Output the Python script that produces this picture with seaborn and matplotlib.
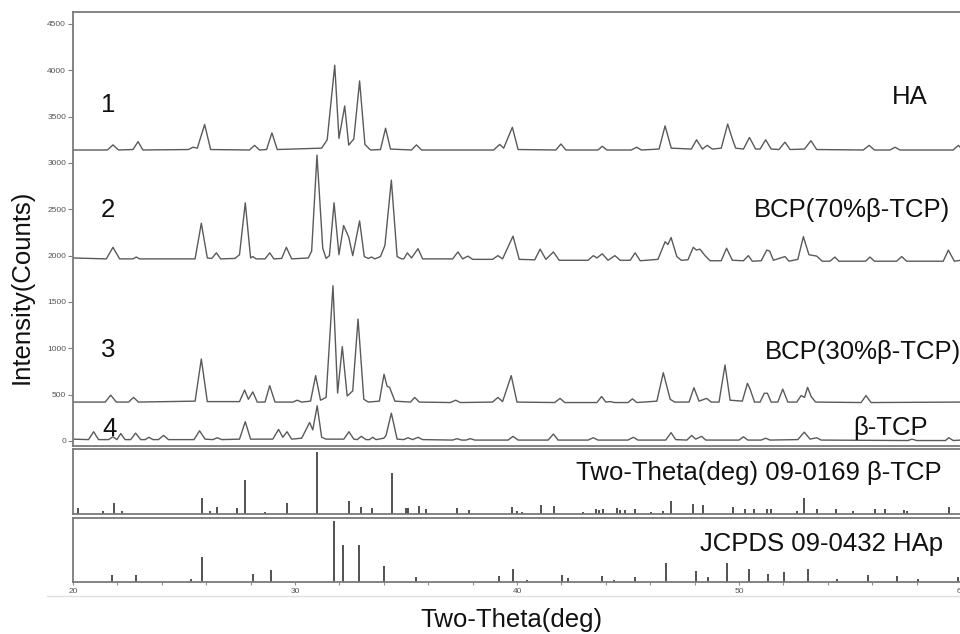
import matplotlib
matplotlib.use("Agg")
import matplotlib.pyplot as plt
from matplotlib.lines import Line2D
import seaborn as sns
import pandas as pd

# ---------------- data ----------------
ha_theta = [20.0, 21.55, 21.8, 22.05, 22.7, 22.93, 23.15, 25.2, 25.4, 25.6, 25.93, 26.2,
            27.95, 28.18, 28.4, 28.72, 28.96, 29.2, 31.2, 31.45, 31.79, 31.98, 32.24, 32.42,
            32.65, 32.91, 33.15, 33.4, 33.85, 34.08, 34.3, 35.25, 35.47, 35.7, 38.95, 39.22,
            39.4, 39.79, 40.05, 41.75, 41.98, 42.2, 43.65, 43.84, 44.05, 45.15, 45.39, 45.6,
            46.4, 46.67, 46.95, 47.85, 48.09, 48.35, 48.57, 48.8, 49.2, 49.49, 49.7, 49.85,
            50.2, 50.47, 50.75, 50.95, 51.2, 51.45, 51.8, 52.07, 52.3, 52.95, 53.24, 53.5,
            55.6, 55.86, 56.1, 56.8, 57.03, 57.25, 59.65, 59.88, 60.0]
ha_counts = [3140, 3140, 3195, 3140, 3145, 3230, 3140, 3145, 3170, 3160, 3415, 3145,
             3140, 3190, 3140, 3145, 3325, 3145, 3160, 3250, 4055, 3265, 3615, 3193,
             3260, 3885, 3200, 3140, 3145, 3375, 3150, 3140, 3195, 3140, 3140, 3200,
             3160, 3385, 3145, 3140, 3205, 3140, 3140, 3180, 3140, 3140, 3170, 3140,
             3150, 3400, 3160, 3150, 3250, 3150, 3190, 3150, 3160, 3420, 3260, 3160,
             3150, 3275, 3150, 3150, 3250, 3150, 3145, 3225, 3145, 3150, 3240, 3145,
             3140, 3190, 3140, 3140, 3170, 3140, 3140, 3190, 3160]

bcp70_theta = [20.0, 21.5, 21.8, 22.1, 22.7, 22.85, 23.0, 25.5, 25.78, 26.05, 26.25, 26.46, 26.65,
               27.3, 27.5, 27.76, 28.0, 28.1, 28.25, 28.65, 28.86, 29.05, 29.4, 29.61, 29.85,
               30.6, 30.75, 30.99, 31.25, 31.4, 31.55, 31.76, 31.98, 32.19, 32.42, 32.6, 32.91,
               33.12, 33.3, 33.45, 33.6, 33.85, 34.05, 34.34, 34.6, 34.8, 34.9, 35.06, 35.25,
               35.54, 35.75, 37.1, 37.34, 37.55, 37.79, 38.0, 38.9, 39.14, 39.35, 39.82, 40.1,
               40.8, 41.04, 41.3, 41.64, 41.9, 43.2, 43.44, 43.6, 43.84, 44.1, 44.41, 44.65,
               45.1, 45.32, 45.55, 46.35, 46.67, 46.8, 46.94, 47.2, 47.4, 47.7, 47.94, 48.08,
               48.24, 48.47, 48.7, 49.2, 49.44, 49.7, 50.2, 50.42, 50.6, 51.0, 51.25, 51.38,
               51.55, 52.07, 52.25, 52.65, 52.9, 53.15, 53.5, 53.75, 54.1, 54.32, 54.5, 55.7,
               55.9, 56.1, 57.1, 57.33, 57.55, 59.2, 59.43, 59.7, 60.0]
bcp70_counts = [1975, 1965, 2090, 1965, 1965, 1985, 1965, 1965, 2350, 1975, 1970, 2030, 1965,
                1970, 2010, 2570, 1975, 1990, 1965, 1965, 2030, 1965, 1970, 2090, 1965,
                1975, 2050, 3085, 2080, 1970, 2000, 2570, 2010, 2325, 2200, 2000, 2375,
                1990, 1970, 1985, 1965, 1990, 2110, 2815, 1990, 1965, 1965, 2030, 1975,
                2075, 1965, 1965, 2040, 1965, 1995, 1960, 1960, 2000, 1965, 2210, 1960,
                1955, 2070, 1960, 2040, 1950, 1950, 2000, 1975, 2020, 1950, 2000, 1950,
                1950, 2030, 1945, 1960, 2150, 2120, 2195, 1990, 1950, 1955, 2090, 2060,
                2070, 2000, 1945, 1945, 2080, 1950, 1945, 2000, 1940, 1945, 2060, 2050,
                1950, 1990, 1940, 1960, 2205, 2010, 1995, 1940, 1940, 1985, 1940, 1940,
                1985, 1940, 1940, 1990, 1940, 1940, 2060, 1940, 1950]

bcp30_theta = [20.0, 21.45, 21.7, 21.95, 22.5, 22.73, 22.95, 25.5, 25.78, 26.05, 27.5, 27.73,
               27.9, 28.1, 28.3, 28.65, 28.86, 29.1, 29.9, 30.1, 30.3, 30.7, 30.93, 31.15,
               31.4, 31.71, 31.92, 32.13, 32.35, 32.6, 32.84, 33.1, 33.3, 33.8, 34.01, 34.15,
               34.26, 34.5, 35.2, 35.39, 35.6, 37.0, 37.24, 37.45, 38.9, 39.14, 39.35, 39.74,
               40.0, 41.7, 41.94, 42.15, 43.6, 43.81, 44.0, 44.2, 44.4, 45.0, 45.2, 45.4,
               46.3, 46.59, 46.9, 47.1, 47.75, 47.97, 48.2, 48.54, 48.75, 49.1, 49.37, 49.6,
               50.15, 50.38, 50.5, 50.7, 50.95, 51.14, 51.28, 51.45, 51.75, 51.97, 52.2,
               52.6, 52.8, 52.95, 53.09, 53.25, 53.45, 55.5, 55.72, 55.95, 60.0]
bcp30_counts = [420, 420, 495, 420, 420, 470, 420, 430, 885, 425, 425, 550,
                450, 530, 420, 420, 597, 420, 420, 440, 420, 430, 705, 440,
                470, 1675, 517, 1018, 485, 540, 1316, 450, 420, 430, 720, 590,
                580, 430, 420, 470, 420, 415, 440, 415, 420, 470, 425, 705,
                420, 415, 460, 415, 415, 480, 420, 425, 415, 415, 455, 415,
                430, 737, 450, 420, 420, 575, 430, 460, 420, 420, 820, 440,
                430, 622, 560, 420, 420, 515, 515, 420, 420, 560, 420,
                420, 490, 470, 579, 480, 420, 415, 490, 415, 420]

tcp_theta = [20.0, 20.7, 20.93, 21.15, 21.6, 21.8, 21.98, 22.15, 22.35, 22.6, 22.82, 23.05,
             23.25, 23.42, 23.6, 23.85, 24.08, 24.3, 25.45, 25.7, 25.95, 26.3, 26.5, 26.7,
             27.5, 27.76, 28.0, 29.0, 29.26, 29.45, 29.64, 29.85, 30.3, 30.66, 30.8, 31.0,
             31.2, 31.4, 32.2, 32.43, 32.65, 32.8, 32.99, 33.2, 33.35, 33.5, 33.65, 34.0,
             34.1, 34.34, 34.6, 34.9, 35.09, 35.3, 35.54, 35.75, 37.1, 37.3, 37.5, 37.7,
             37.9, 38.1, 39.6, 39.82, 40.05, 41.4, 41.64, 41.85, 43.2, 43.44, 43.65, 45.0,
             45.24, 45.45, 46.7, 46.94, 47.15, 47.65, 47.87, 48.05, 48.32, 48.5, 50.0, 50.2,
             50.4, 51.0, 51.2, 51.4, 52.65, 52.94, 53.2, 53.5, 53.7, 57.6, 57.8, 58.0,
             59.3, 59.45, 59.65, 60.0]
tcp_counts = [20, 15, 100, 15, 15, 45, 15, 80, 15, 15, 85, 15,
              15, 40, 15, 15, 60, 15, 15, 110, 20, 15, 35, 15,
              20, 208, 20, 20, 125, 40, 100, 20, 30, 200, 120, 380,
              40, 20, 20, 100, 20, 15, 50, 15, 15, 40, 15, 30,
              60, 300, 20, 15, 35, 15, 40, 15, 10, 25, 10, 10,
              25, 10, 10, 50, 10, 10, 75, 10, 10, 35, 10, 10,
              40, 10, 10, 90, 15, 10, 60, 20, 50, 10, 10, 45,
              10, 10, 30, 10, 15, 95, 20, 35, 10, 5, 20, 5,
              5, 35, 5, 10]

# reference stick patterns (relative height, % of panel)
ref_tcp_theta = [20.21, 21.37, 21.83, 22.2, 25.8, 26.17, 26.47, 27.4, 27.75, 28.66, 29.64, 31.0,
                 32.43, 32.99, 33.47, 34.35, 35.0, 35.1, 35.57, 35.88, 37.31, 37.85, 39.76, 40.01,
                 40.21, 41.06, 41.66, 42.96, 43.54, 43.71, 43.89, 44.49, 44.64, 44.86, 45.31,
                 46.02, 46.59, 46.95, 47.94, 48.39, 49.74, 50.27, 50.69, 51.24, 51.44, 52.6,
                 52.93, 53.5, 54.37, 55.12, 56.12, 56.57, 57.43, 57.55, 59.47]
ref_tcp_int = [7.8, 4, 15.6, 4, 24.5, 4, 10.4, 7.8, 52, 3, 15.6, 94.8,
               19.8, 10.4, 7.8, 62.5, 7.8, 7.8, 12, 6.8, 7.9, 5.8, 9.5, 4,
               3, 13.7, 11, 3, 6.8, 5.8, 6.8, 8.4, 5.8, 5.8, 6.8,
               2.6, 4.2, 19, 14.7, 13.7, 10.5, 6.8, 6.8, 6.8, 6.8, 4.2,
               23.7, 6.8, 6.8, 4.2, 6.8, 6.8, 5.8, 4.2, 10.5]

ref_hap_theta = [21.77, 22.85, 25.3, 25.83, 28.12, 28.92, 31.74, 32.17, 32.89, 34.03, 35.46,
                 39.2, 39.8, 40.46, 42.01, 42.28, 43.81, 44.37, 45.31, 46.7, 48.06, 48.59,
                 49.47, 50.46, 51.29, 52.04, 53.12, 54.4, 55.82, 57.1, 58.05, 59.88]
ref_hap_int = [11.5, 11.5, 4.2, 39, 13, 19.3, 94.8, 57.3, 57.3, 25, 7.8,
               8.9, 19.8, 2.6, 11.5, 6.3, 8.9, 2.6, 7.8, 29.7, 16.7, 7.8,
               29.7, 19.8, 12, 15.6, 19.8, 4.2, 11.5, 8.9, 5.2, 7.8]

y_ticks = [0, 500, 1000, 1500, 2000, 2500, 3000, 3500, 4000, 4500]
x_ticks = [20, 30, 40, 50, 60]

# ---------------- figure ----------------
sns.set_style("white")
plt.rcParams["font.family"] = ["Liberation Sans", "DejaVu Sans"]

W, H = 960, 634
fig = plt.figure(figsize=(W / 100, H / 100), dpi=100)

def box(l, t, r, b):
    return [l / W, 1 - b / H, (r - l) / W, (b - t) / H]

ax = fig.add_axes(box(73, 12, 961, 446))
ax2 = fig.add_axes(box(73, 449, 961, 513.5))
ax3 = fig.add_axes(box(73, 517.7, 961, 582))

line_color = "#5a5a5a"
for th, ct in [(ha_theta, ha_counts), (bcp70_theta, bcp70_counts),
               (bcp30_theta, bcp30_counts), (tcp_theta, tcp_counts)]:
    df = pd.DataFrame({"theta": th, "counts": ct})
    sns.lineplot(data=df, x="theta", y="counts", ax=ax, color=line_color,
                 linewidth=1.0, estimator=None, sort=False,
                 solid_joinstyle="round")

ax.set_xlim(20, 60)
ax.set_ylim(-54, 4629)
ax.set_yticks(y_ticks)
ax.set_xticks([])
ax.set_xlabel("")
ax.set_ylabel("")
ax.tick_params(axis="y", left=True, length=3.5, width=0.8, color="#808080",
               labelsize=6, labelcolor="#555555", pad=1.5)

ax2.vlines(ref_tcp_theta, 0, ref_tcp_int, color="#222222", linewidth=1.1)
ax3.vlines(ref_hap_theta, 0, ref_hap_int, color="#222222", linewidth=1.1)
for a in (ax2, ax3):
    a.set_xlim(20, 60)
    a.set_ylim(0, 100)
    a.set_yticks([])

ax2.set_xticks([])
ax3.set_xticks(x_ticks)
ax3.set_xticks(list(range(20, 61, 2)), minor=True)
ax3.tick_params(axis="x", which="both", bottom=True, length=2.5, width=0.8,
                color="#909090", labelsize=6, labelcolor="#555555", pad=1.5)

for a in (ax, ax2, ax3):
    for s in a.spines.values():
        s.set_color("#7a7a7a")
        s.set_linewidth(1.3)

# curve labels
FS = 18.5
txt = dict(fontsize=FS, color="#111111", va="center")
for lab, px, py in [("1", 108, 105), ("2", 108, 210), ("3", 108, 350), ("4", 110, 429)]:
    fig.text(px / W, 1 - py / H, lab, ha="center", **txt)
fig.text(928 / W, 1 - 97 / H, "HA", ha="right", **txt)
fig.text(950 / W, 1 - 210 / H, "BCP(70%β-TCP)", ha="right", **txt)
fig.text(765 / W, 1 - 352 / H, "BCP(30%β-TCP)", ha="left", **txt)
fig.text(928 / W, 1 - 428 / H, "β-TCP", ha="right", **txt)
fig.text(942 / W, 1 - 473 / H, "Two-Theta(deg) 09-0169 β-TCP", ha="right", **txt)
fig.text(943 / W, 1 - 544 / H, "JCPDS 09-0432 HAp", ha="right", **txt)

# axis titles
fig.text(511 / W, 1 - 620 / H, "Two-Theta(deg)", ha="center", va="center",
         fontsize=FS, color="#111111")
fig.text(22 / W, 1 - 287 / H, "Intensity(Counts)", ha="center", va="center",
         rotation=90, fontsize=FS, color="#111111")

fig.add_artist(Line2D([47 / W, 1.0], [1 - 596 / H, 1 - 596 / H], color="#e0e0e0", linewidth=1))

fig.savefig("out.png", dpi=100)
